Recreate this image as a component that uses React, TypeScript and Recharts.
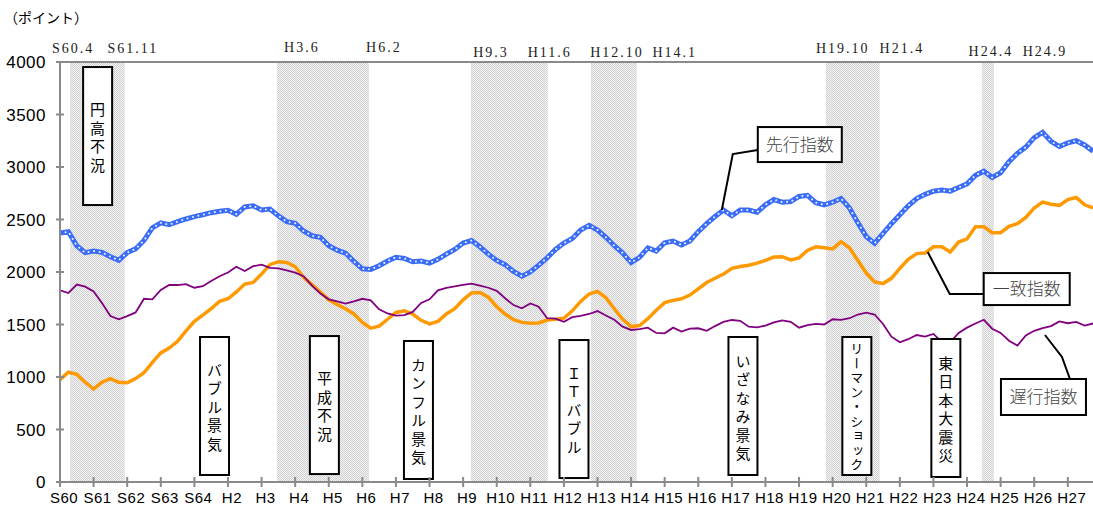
import { LineChart, Line, XAxis, YAxis, ReferenceArea, ReferenceLine, ReferenceDot } from "recharts";

// 景気動向指数（CI）S60.1〜H27、四半期ごとに読み取り
const leading = [
  2370, 2384, 2250, 2184, 2200, 2187, 2145, 2112,
  2185, 2220, 2300, 2420, 2468, 2450, 2480, 2505,
  2528, 2545, 2565, 2578, 2588, 2550, 2620, 2630,
  2590, 2600, 2535, 2480, 2464, 2390, 2345, 2330,
  2250, 2208, 2180, 2100, 2030, 2025, 2060, 2105,
  2140, 2130, 2098, 2105, 2085, 2120, 2170, 2215,
  2275, 2300, 2240, 2170, 2110, 2070, 2005, 1960,
  2000, 2065, 2135, 2215, 2275, 2320, 2400, 2445,
  2400, 2330, 2250, 2180, 2090, 2140, 2230, 2200,
  2278, 2295, 2258, 2295, 2384, 2460, 2528, 2590,
  2535, 2590, 2590, 2570, 2640, 2690, 2665, 2670,
  2720, 2730, 2660, 2640, 2665, 2700, 2610, 2470,
  2337, 2273, 2368, 2460, 2545, 2630, 2700, 2740,
  2770, 2780, 2770, 2805, 2840, 2920, 2960, 2900,
  2945, 3050, 3130, 3190, 3280, 3330, 3245, 3195,
  3230, 3250, 3210, 3150,
];

const coincident = [
  975, 1045, 1025, 950, 885, 950, 985, 950,
  945, 985, 1040, 1140, 1230, 1275, 1340, 1440,
  1530, 1590, 1650, 1720, 1745, 1810, 1885, 1900,
  1980, 2070, 2098, 2090, 2050, 1950, 1880, 1810,
  1735, 1690, 1650, 1600, 1520, 1465, 1485, 1550,
  1615, 1630, 1600, 1540, 1505, 1530, 1600, 1650,
  1735, 1800, 1805, 1760, 1670, 1600, 1545, 1520,
  1512, 1515, 1543, 1550, 1560, 1630, 1720, 1790,
  1815, 1755, 1650, 1550, 1480, 1490, 1555, 1635,
  1708, 1730, 1745, 1780, 1840, 1900, 1940, 1980,
  2035, 2052, 2065, 2085, 2110, 2142, 2146, 2115,
  2135, 2205, 2240, 2230, 2220, 2289, 2230, 2110,
  1990, 1905, 1890, 1940, 2035, 2120, 2175, 2180,
  2240, 2240, 2190, 2285, 2315, 2430, 2430, 2375,
  2375, 2435, 2460, 2520, 2610, 2665, 2645, 2635,
  2690, 2710, 2640, 2610,
];

const lagging = [
  1825, 1800, 1880, 1860, 1815, 1705, 1580, 1550,
  1580, 1615, 1745, 1740, 1830, 1876, 1876, 1885,
  1850, 1865, 1915, 1960, 1995, 2050, 2010, 2055,
  2070, 2040, 2035, 2015, 1994, 1960, 1870, 1795,
  1740, 1720, 1700, 1720, 1745, 1730, 1645, 1605,
  1585, 1590, 1620, 1705, 1740, 1825, 1848, 1862,
  1878, 1890, 1870, 1850, 1820, 1750, 1685, 1654,
  1700, 1670, 1560, 1555, 1525, 1570, 1582, 1600,
  1628, 1585, 1545, 1480, 1448, 1455, 1470, 1420,
  1416, 1470, 1432, 1460, 1464, 1440, 1485, 1525,
  1543, 1535, 1479, 1473, 1490, 1520, 1540, 1525,
  1470, 1495, 1505, 1500, 1550, 1545, 1560, 1595,
  1612, 1595, 1505, 1384, 1330, 1360, 1400, 1385,
  1410, 1335, 1330, 1420, 1470, 1510, 1545, 1460,
  1420, 1345, 1300, 1395, 1440, 1465, 1485, 1530,
  1512, 1525, 1490, 1510,
];

const yearLabels = [
  "S60", "S61", "S62", "S63", "S64", "H2", "H3", "H4", "H5", "H6", "H7",
  "H8", "H9", "H10", "H11", "H12", "H13", "H14", "H15", "H16", "H17",
  "H18", "H19", "H20", "H21", "H22", "H23", "H24", "H25", "H26", "H27",
];
const yTicks = [0, 500, 1000, 1500, 2000, 2500, 3000, 3500, 4000];

// 景気後退期（年、S60.1 = 0）
const recessionStart = [0.3, 6.46, 12.23, 15.8, 22.8, 27.44];
const recessionEnd = [1.93, 9.2, 14.52, 17.17, 24.4, 27.8];

const turnLabels = ["S60.4", "S61.11", "H3.6", "H6.2", "H9.3", "H11.6", "H12.10", "H14.1", "H19.10", "H21.4", "H24.4", "H24.9"];
const turnAt = [0.39, 2.17, 7.2, 9.64, 12.83, 14.58, 16.58, 18.3, 23.3, 25.06, 27.71, 29.32];
const turnLift = [9, 9, 10, 10, 5.5, 5.5, 5.5, 5.5, 9, 9, 6, 6];

const phaseLabels = ["円高不況", "バブル景気", "平成不況", "カンフル景気", "ＩＴバブル", "いざなみ景気", "リーマン・ショック", "東日本大震災"];
const phaseAt = [1.12, 4.6, 7.87, 10.67, 15.3, 20.33, 23.72, 26.37];
const phaseTop = [3952, 1381, 1390, 1343, 1352, 1381, 1381, 1362];

const data = leading.map((v, i) => ({
  t: i / 4,
  leading: v,
  coincident: coincident[i],
  lagging: lagging[i],
}));

const JP = "'Noto Sans CJK JP', sans-serif";
const AXIS = "#8a8a8a";

const phaseBox = (label: string) => (p: any) => {
  const w = 29;
  const h = 138;
  const long = label.length > 7;
  return (
    <g>
      <rect x={p.cx - w / 2} y={p.cy} width={w} height={h} fill="#fff" stroke="#000" strokeWidth={2} />
      <text
        x={p.cx}
        y={p.cy + h / 2 + (long ? 1 : 3)}
        textAnchor="middle"
        fontFamily={JP}
        fontSize={long ? 13 : 15}
        letterSpacing={long ? 1.5 : 3.5}
        fill="#000"
        style={{ writingMode: "vertical-rl" }}
      >
        {label}
      </text>
    </g>
  );
};

const turnText = (label: string, lift: number) => (p: any) => (
  <text
    x={p.cx}
    y={p.cy - lift}
    textAnchor="middle"
    fontFamily="'Liberation Serif', serif"
    fontSize={14}
    letterSpacing={2}
    fill="#222"
  >
    {label}
  </text>
);

const callout =
  (label: string, pts: number[][], box: number[]) =>
  (p: any) => {
    const [bx, by, bw, bh] = box;
    const path = [[0, 0], ...pts].map(([dx, dy]) => `${p.cx + dx},${p.cy + dy}`).join(" ");
    return (
      <g>
        <polyline points={path} fill="none" stroke="#000" strokeWidth={2} />
        <rect x={p.cx + bx} y={p.cy + by} width={bw} height={bh} fill="#fff" stroke="#000" strokeWidth={2} />
        <text
          x={p.cx + bx + bw / 2}
          y={p.cy + by + bh / 2 + 6}
          textAnchor="middle"
          fontFamily={JP}
          fontSize={17}
          fontWeight={300}
          fill="#444"
        >
          {label}
        </text>
      </g>
    );
  };

const XTick = (p: any) => (
  <g>
    <line x1={p.x} x2={p.x} y1={p.y - 5} y2={p.y + 5} stroke={AXIS} strokeWidth={2} />
    <text x={p.x + 4} y={p.y + 21} textAnchor="middle" fontFamily="'Liberation Sans', Arial" fontSize={15} letterSpacing={0.5} fill="#000">
      {yearLabels[p.payload.value]}
    </text>
  </g>
);

const YTick = (p: any) => (
  <g>
    <line x1={p.x - 4} x2={p.x + 4} y1={p.y} y2={p.y} stroke={AXIS} strokeWidth={2} />
    <text x={p.x - 14} y={p.y + 6} textAnchor="end" fontFamily="'Liberation Sans', Arial" fontSize={17} letterSpacing={0.5} fill="#000">
      {p.payload.value}
    </text>
  </g>
);

export default function App() {
  return (
    <div style={{ position: "absolute", left: 0, top: 0, background: "#fff" }}>
      <LineChart width={1093} height={510} data={data} margin={{ top: 62, right: 0, bottom: 0, left: 0 }}>
        <defs>
          <pattern id="hatch" width={2} height={2} patternUnits="userSpaceOnUse">
            <rect width={2} height={2} fill="#f2f2f2" />
            <rect width={1} height={1} fill="#d2d2d2" />
            <rect x={1} y={1} width={1} height={1} fill="#d2d2d2" />
          </pattern>
        </defs>
        <text x={4} y={23} fontFamily={JP} fontSize={14} fill="#000">（ポイント）</text>

        <XAxis
          type="number"
          dataKey="t"
          domain={[0, 30.75]}
          ticks={yearLabels.map((_, i) => i)}
          interval={0}
          height={28}
          tickSize={0}
          tickMargin={0}
          tickLine={false}
          axisLine={{ stroke: AXIS, strokeWidth: 2 }}
          tick={XTick}
          allowDataOverflow
        />
        <YAxis
          type="number"
          domain={[0, 4000]}
          ticks={yTicks}
          width={60}
          tickSize={0}
          tickMargin={0}
          tickLine={false}
          axisLine={{ stroke: AXIS, strokeWidth: 2 }}
          tick={YTick}
        />

        {recessionStart.map((s, i) => (
          <ReferenceArea key={`r${i}`} x1={s} x2={recessionEnd[i]} y1={0} y2={4000} fill="url(#hatch)" fillOpacity={1} stroke="none" />
        ))}
        <ReferenceLine y={4000} stroke={AXIS} strokeWidth={2} />

        <Line type="linear" dataKey="coincident" stroke="#ff9900" strokeWidth={3.5} dot={false} isAnimationActive={false} />
        <Line type="linear" dataKey="lagging" stroke="#800080" strokeWidth={1.8} dot={false} isAnimationActive={false} />
        <Line type="linear" dataKey="leading" stroke="#3a6cf7" strokeWidth={5} dot={false} isAnimationActive={false} />
        <Line
          type="linear"
          dataKey="leading"
          stroke="#e4ecff"
          strokeWidth={2}
          strokeDasharray="0.1 5.5"
          strokeLinecap="round"
          dot={false}
          legendType="none"
          isAnimationActive={false}
        />

        {turnLabels.map((l, i) => (
          <ReferenceDot key={`t${i}`} x={turnAt[i]} y={4000} r={0} ifOverflow="visible" shape={turnText(l, turnLift[i])} />
        ))}
        {phaseLabels.map((l, i) => (
          <ReferenceDot key={`p${i}`} x={phaseAt[i]} y={phaseTop[i]} r={0} ifOverflow="visible" shape={phaseBox(l)} />
        ))}

        <ReferenceDot x={19.7} y={2590} r={0} ifOverflow="visible" shape={callout("先行指数", [[11, -56], [36, -60]], [36, -83, 84, 35])} />
        <ReferenceDot x={25.83} y={2190} r={0} ifOverflow="visible" shape={callout("一致指数", [[22, 42], [56, 42]], [56, 21, 86, 32])} />
        <ReferenceDot x={29.32} y={1400} r={0} ifOverflow="visible" shape={callout("遅行指数", [[17, 22], [25, 44]], [-44, 44, 85, 36])} />
      </LineChart>
    </div>
  );
}
